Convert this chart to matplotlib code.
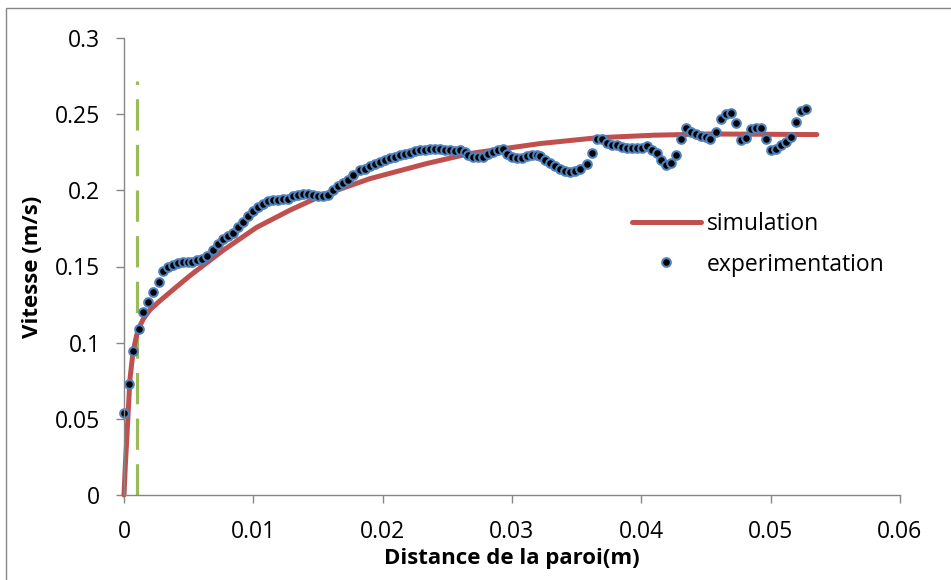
import matplotlib
matplotlib.use("Agg")
import matplotlib.pyplot as plt
from matplotlib.patches import Rectangle

plt.rcParams['font.family'] = ['Open Sans', 'DejaVu Sans']

# Mesures (experimentation)
x_exp = [0.0, 0.00039, 0.00072, 0.00116, 0.00149, 0.00188, 0.00224, 0.00268, 0.00304, 0.00343,
         0.00379, 0.00418, 0.00454, 0.00493, 0.00524, 0.00562, 0.00601, 0.0064, 0.00686, 0.00729,
         0.00768, 0.00807, 0.00845, 0.00884, 0.00923, 0.00961, 0.0100, 0.01039, 0.01077, 0.01116,
         0.01155, 0.01193, 0.01232, 0.01271, 0.01309, 0.01348, 0.01387, 0.01425, 0.01464, 0.01503,
         0.01541, 0.0158, 0.01619, 0.01658, 0.01696, 0.01735, 0.01773, 0.01825, 0.01864, 0.01903,
         0.01941, 0.0198, 0.02019, 0.02057, 0.02096, 0.02135, 0.02173, 0.02212, 0.02251, 0.02289,
         0.02328, 0.02367, 0.02405, 0.02444, 0.02483, 0.02521, 0.0256, 0.02599, 0.02637, 0.02663,
         0.02701, 0.0274, 0.02779, 0.02817, 0.02856, 0.02895, 0.02929, 0.0296, 0.02998, 0.03037,
         0.03076, 0.03114, 0.03153, 0.03192, 0.03217, 0.03256, 0.03295, 0.03333, 0.03372, 0.03411,
         0.03449, 0.03488, 0.03527, 0.03579, 0.03617, 0.03656, 0.03695, 0.03733, 0.03772, 0.03811,
         0.03849, 0.03888, 0.03927, 0.03965, 0.04004, 0.04043, 0.04081, 0.0412, 0.04153, 0.04192,
         0.0423, 0.04269, 0.04308, 0.04346, 0.04385, 0.04424, 0.04462, 0.04501, 0.04532, 0.04579,
         0.04618, 0.04656, 0.04695, 0.04734, 0.04773, 0.04811, 0.0485, 0.04889, 0.04927, 0.04965,
         0.05004, 0.05043, 0.05081, 0.0512, 0.05159, 0.05197, 0.05236, 0.05275]
v_exp = [0.054, 0.073, 0.0945, 0.109, 0.120, 0.127, 0.133, 0.140, 0.147, 0.150,
         0.1513, 0.1524, 0.1529, 0.153, 0.153, 0.154, 0.155, 0.157, 0.161, 0.165,
         0.168, 0.170, 0.172, 0.176, 0.179, 0.183, 0.1866, 0.189, 0.191, 0.193,
         0.1935, 0.1935, 0.194, 0.1946, 0.196, 0.197, 0.1975, 0.1975, 0.197, 0.196,
         0.196, 0.197, 0.200, 0.2027, 0.205, 0.207, 0.210, 0.2133, 0.2143, 0.216,
         0.2176, 0.2187, 0.220, 0.221, 0.222, 0.223, 0.224, 0.2248, 0.2257, 0.2263,
         0.2268, 0.227, 0.2272, 0.2272, 0.2268, 0.2263, 0.2259, 0.2268, 0.2252, 0.2235,
         0.222, 0.2216, 0.222, 0.2237, 0.2252, 0.2263, 0.227, 0.224, 0.222, 0.221,
         0.221, 0.2224, 0.2235, 0.2235, 0.2224, 0.220, 0.218, 0.216, 0.2143, 0.2128,
         0.2121, 0.2128, 0.2143, 0.2176, 0.2248, 0.234, 0.234, 0.2311, 0.230, 0.2296,
         0.2285, 0.2279, 0.2275, 0.2275, 0.228, 0.229, 0.2268, 0.2242, 0.220, 0.2165,
         0.218, 0.223, 0.234, 0.2412, 0.2383, 0.2368, 0.2355, 0.2347, 0.234, 0.2384,
         0.2465, 0.2504, 0.2508, 0.2439, 0.2329, 0.2344, 0.240, 0.2412, 0.2406, 0.2334,
         0.2263, 0.2272, 0.2296, 0.2318, 0.2347, 0.2446, 0.2522, 0.2531]

# Courbe de simulation
x_sim = [0.0, 0.0001, 0.00021, 0.00046, 0.0007, 0.00098, 0.0012, 0.00149, 0.002, 0.00278,
         0.00408, 0.0051, 0.00768, 0.01026, 0.01284, 0.01541, 0.01903, 0.02341, 0.02676,
         0.03217, 0.03656, 0.04100, 0.04532, 0.05357]
v_sim = [0.0, 0.019, 0.036, 0.076, 0.094, 0.105, 0.1105, 0.1155, 0.1215, 0.1275,
         0.1368, 0.1440, 0.1607, 0.1757, 0.187, 0.197, 0.2077, 0.2176, 0.2242,
         0.2307, 0.2345, 0.2362, 0.2370, 0.2366]

# Ligne verticale (limite de la couche)
x_lim = [0.001, 0.001]
v_lim = [0.0, 0.272]

fig = plt.figure(figsize=(9.51, 5.80), dpi=100)
ax = fig.add_axes([124/951, 1-495/580, (900-124)/951, (495-38)/580])

# cadre autour du graphique
fig.patches.append(Rectangle((6/951, -0.05), 1.2, 1.05-8/580, transform=fig.transFigure,
                             fill=False, edgecolor='#868686', lw=1.0))

ax.plot(x_lim, v_lim, color='#9BBB59', lw=2.3, ls=(0, (9.8, 4.48)))
ax.plot(x_sim, v_sim, color='#C0504D', lw=3.6, solid_capstyle='round', solid_joinstyle='round',
        label='simulation', clip_on=False)
ax.plot(x_exp, v_exp, ls='none', marker='o', ms=6.2, mfc='black', mec='#4F81BD', mew=1.5,
        label='experimentation', clip_on=False)

ax.set_xlim(0, 0.06)
ax.set_ylim(0, 0.3)
ax.set_xticks([0, 0.01, 0.02, 0.03, 0.04, 0.05, 0.06])
ax.set_xticklabels(['0', '0.01', '0.02', '0.03', '0.04', '0.05', '0.06'])
ax.set_yticks([0, 0.05, 0.1, 0.15, 0.2, 0.25, 0.3])
ax.set_yticklabels(['0', '0.05', '0.1', '0.15', '0.2', '0.25', '0.3'])

for s in ['top', 'right']:
    ax.spines[s].set_visible(False)
for s in ['left', 'bottom']:
    ax.spines[s].set_color('#868686')
    ax.spines[s].set_linewidth(1.0)
ax.tick_params(axis='both', colors='#868686', labelcolor='black', length=6, width=1.0,
               labelsize=16.5)
ax.tick_params(axis='y', pad=11)
ax.tick_params(axis='x', pad=12)

ax.set_xlabel('Distance de la paroi(m)', fontsize=16, fontweight='bold', labelpad=3)
ax.set_ylabel('Vitesse (m/s)', fontsize=16, fontweight='bold', labelpad=9)

ax.legend(loc='upper left', bbox_to_anchor=(632/951, 1-212/580), bbox_transform=fig.transFigure,
          frameon=False, fontsize=16.5, handlelength=3.0, handletextpad=0.25, labelspacing=0.72,
          borderpad=0, borderaxespad=0)

fig.savefig('out.png', dpi=100)
